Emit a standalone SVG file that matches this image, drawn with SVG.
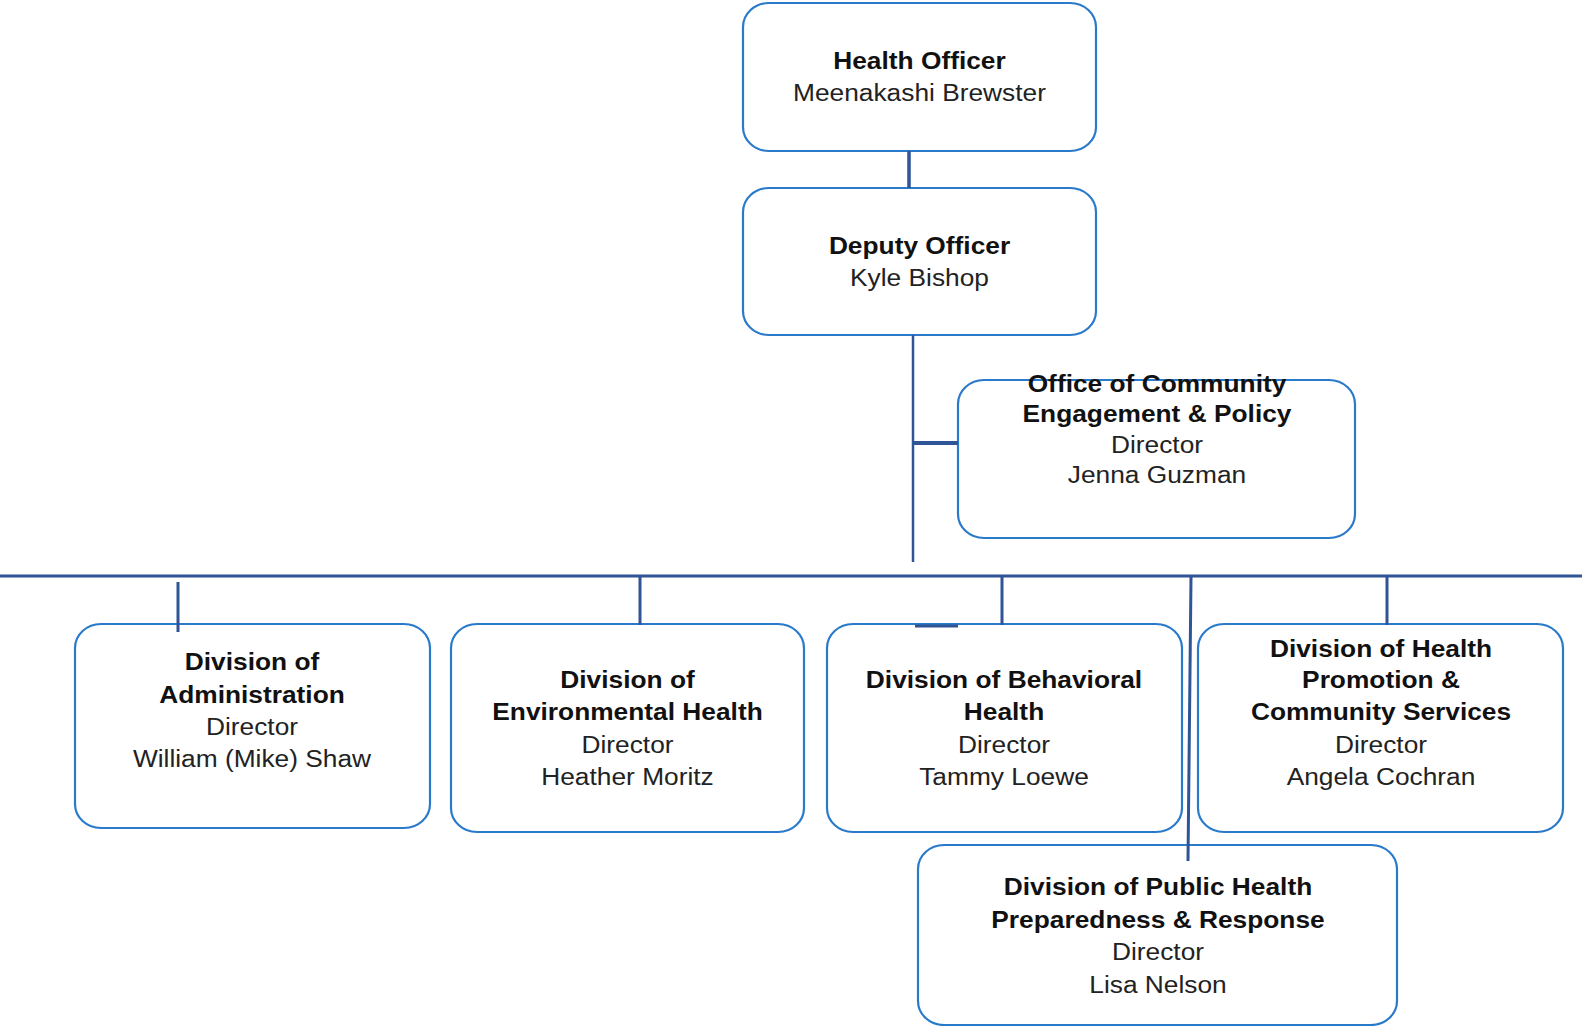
<svg xmlns="http://www.w3.org/2000/svg" width="1582" height="1026" viewBox="0 0 1582 1026">
  <style>
    .box { fill: #ffffff; stroke: #2a7acb; stroke-width: 2.2; }
    .link { stroke: #2f5597; fill: none; stroke-linecap: butt; }
    .t { font-family: "Liberation Sans", Arial, sans-serif; font-size: 23.5px; text-anchor: middle; }
    .b { font-weight: bold; fill: #111111; }
    .r { fill: #222222; }
  </style>
  <rect width="1582" height="1026" fill="#ffffff"/>

  <g id="health-officer">
    <rect class="box" x="743" y="3" width="353" height="148" rx="26" ry="24"/>
    <g class="t" transform="translate(919.5 0) scale(1.12 1)">
      <text class="b" x="0" y="69">Health Officer</text>
      <text class="r" x="0" y="101">Meenakashi Brewster</text>
    </g>
  </g>

  <g id="deputy-officer">
    <rect class="box" x="743" y="188" width="353" height="147" rx="26" ry="24"/>
    <g class="t" transform="translate(919.5 0) scale(1.12 1)">
      <text class="b" x="0" y="254">Deputy Officer</text>
      <text class="r" x="0" y="286">Kyle Bishop</text>
    </g>
  </g>

  <g id="community-engagement">
    <rect class="box" x="958" y="380" width="397" height="158" rx="26" ry="24"/>
    <g class="t" transform="translate(1157 0) scale(1.12 1)">
      <text class="b" x="0" y="392">Office of Community</text>
      <text class="b" x="0" y="422">Engagement &amp; Policy</text>
      <text class="r" x="0" y="453">Director</text>
      <text class="r" x="0" y="483">Jenna Guzman</text>
    </g>
  </g>

  <g id="administration">
    <rect class="box" x="75" y="624" width="355" height="204" rx="26" ry="24"/>
    <g class="t" transform="translate(252 0) scale(1.12 1)">
      <text class="b" x="0" y="670">Division of</text>
      <text class="b" x="0" y="703">Administration</text>
      <text class="r" x="0" y="735">Director</text>
      <text class="r" x="0" y="767">William (Mike) Shaw</text>
    </g>
  </g>

  <g id="environmental-health">
    <rect class="box" x="451" y="624" width="353" height="208" rx="26" ry="24"/>
    <g class="t" transform="translate(627.5 0) scale(1.12 1)">
      <text class="b" x="0" y="688">Division of</text>
      <text class="b" x="0" y="720">Environmental Health</text>
      <text class="r" x="0" y="753">Director</text>
      <text class="r" x="0" y="785">Heather Moritz</text>
    </g>
  </g>

  <g id="behavioral-health">
    <rect class="box" x="827" y="624" width="355" height="208" rx="26" ry="24"/>
    <g class="t" transform="translate(1004 0) scale(1.12 1)">
      <text class="b" x="0" y="688">Division of Behavioral</text>
      <text class="b" x="0" y="720">Health</text>
      <text class="r" x="0" y="753">Director</text>
      <text class="r" x="0" y="785">Tammy Loewe</text>
    </g>
  </g>

  <g id="health-promotion">
    <rect class="box" x="1198" y="624" width="365" height="208" rx="26" ry="24"/>
    <g class="t" transform="translate(1381 0) scale(1.12 1)">
      <text class="b" x="0" y="657">Division of Health</text>
      <text class="b" x="0" y="688">Promotion &amp;</text>
      <text class="b" x="0" y="720">Community Services</text>
      <text class="r" x="0" y="753">Director</text>
      <text class="r" x="0" y="785">Angela Cochran</text>
    </g>
  </g>

  <g id="preparedness-response">
    <rect class="box" x="918" y="845" width="479" height="180" rx="26" ry="24"/>
    <g class="t" transform="translate(1158 0) scale(1.12 1)">
      <text class="b" x="0" y="895">Division of Public Health</text>
      <text class="b" x="0" y="928">Preparedness &amp; Response</text>
      <text class="r" x="0" y="960">Director</text>
      <text class="r" x="0" y="993">Lisa Nelson</text>
    </g>
  </g>

  <!-- reporting lines, drawn over the box outlines -->
  <g id="connectors">
    <line class="link" x1="909" y1="151" x2="909" y2="188" stroke-width="3.5"/>
    <line class="link" x1="913" y1="335" x2="913" y2="562" stroke-width="2.5"/>
    <line class="link" x1="913" y1="443" x2="958" y2="443" stroke-width="4"/>
    <line class="link" x1="0" y1="576" x2="1582" y2="576" stroke-width="3" stroke="#3d5c9c"/>
    <line class="link" x1="178" y1="582" x2="178" y2="632" stroke-width="3"/>
    <line class="link" x1="640" y1="577" x2="640" y2="625" stroke-width="3"/>
    <line class="link" x1="1002" y1="577" x2="1002" y2="625" stroke-width="3"/>
    <line class="link" x1="915" y1="626" x2="958" y2="626" stroke-width="3"/>
    <line class="link" x1="1191" y1="577" x2="1188" y2="861" stroke-width="3"/>
    <line class="link" x1="1387" y1="577" x2="1387" y2="625" stroke-width="3"/>
  </g>
</svg>
